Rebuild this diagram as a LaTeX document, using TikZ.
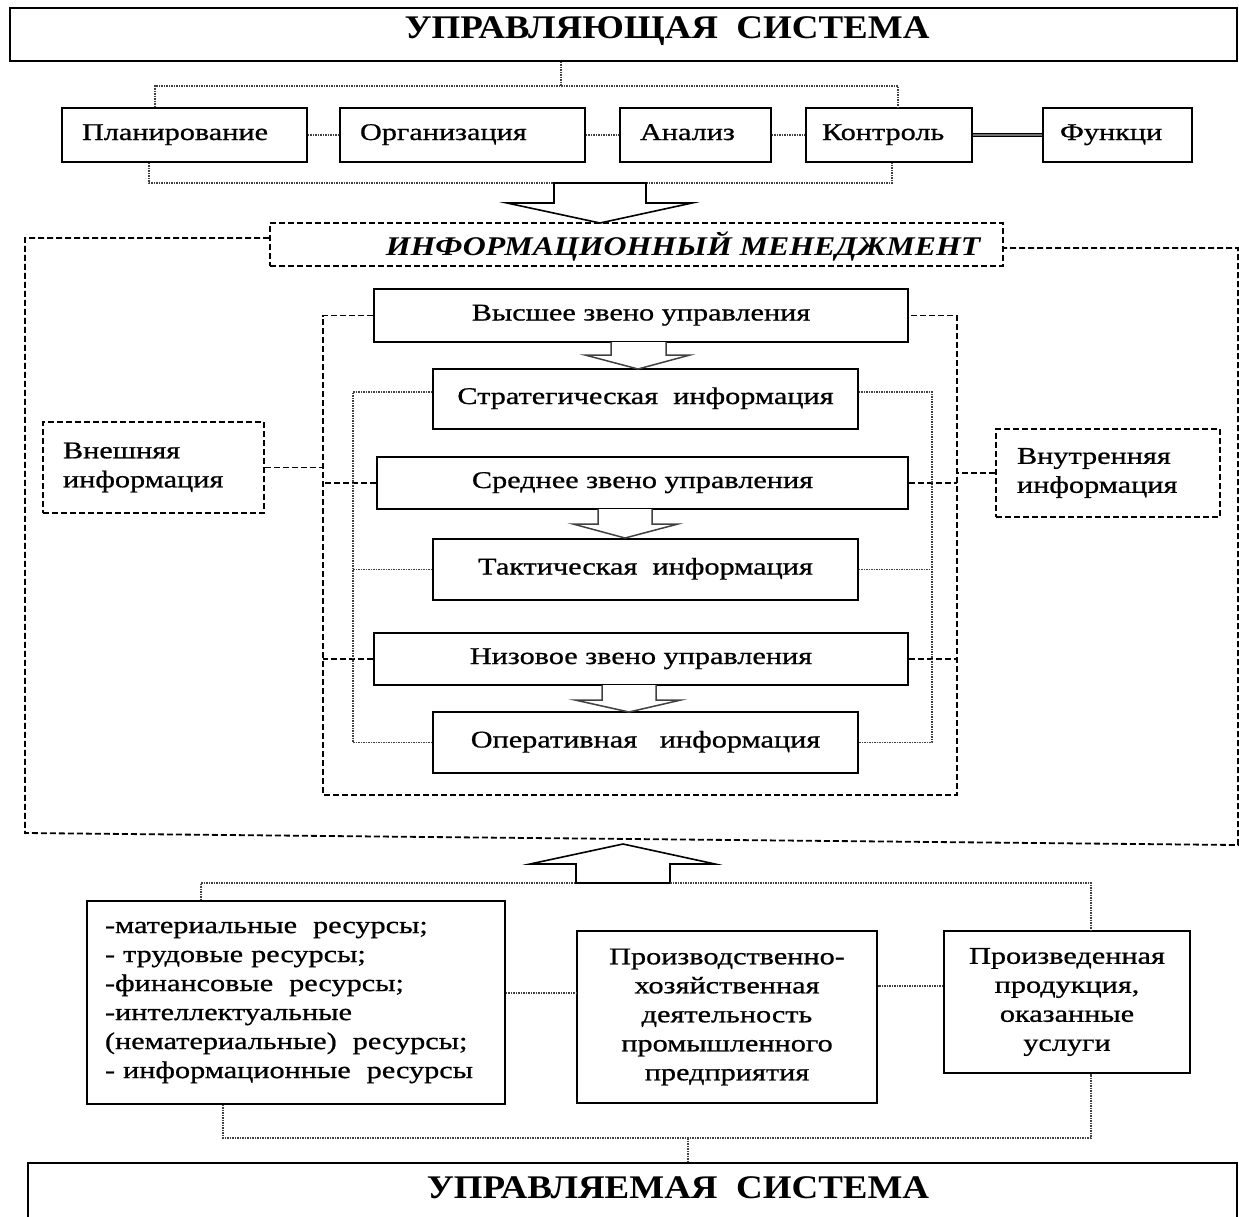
\documentclass[tikz,border=0pt]{standalone}
\usepackage{fontspec}
\newfontfamily\bodyf{Liberation Serif}[FakeStretch=1.26, FakeBold=0.8]
\newfontfamily\headf{Liberation Serif}[FakeStretch=1.12]
\newfontfamily\imf{Liberation Serif}[FakeStretch=1.18]
\newcommand\bodytext{\bodyf\fontsize{24}{29}\selectfont}
\newcommand\headtext{\headf\bfseries\fontsize{33}{38}\selectfont}
\newcommand\imtext{\imf\bfseries\itshape\fontsize{27}{30}\selectfont}

\tikzset{
  box/.style={draw, line width=1.8pt, inner sep=0pt, font=\bodytext},
  dbox/.style={box, dash pattern=on 6pt off 3pt},
  lbox/.style={box, align=left},
  cbox/.style={box, align=center},
  oneline/.style={text height=16pt, text depth=6pt},
  dotline/.style={line width=1.2pt, dash pattern=on 1.5pt off 1pt, black!75},
  dashline/.style={line width=1.8pt, dash pattern=on 6pt off 3pt},
  dblline/.style={double=black!55, line width=1.7pt, double distance=1.4pt},
  blockarrow/.style={draw, fill=white, line width=1.6pt, line join=miter},
  smallarrow/.style={draw=black!75, fill=white, line width=1.5pt, line join=miter},
}

\begin{document}
\begin{tikzpicture}[x=1pt, y=-1pt]
\useasboundingbox (0,0) rectangle (1239,1216);

% ---- controlling system ----
\node[box, minimum width=1227, minimum height=53] (ctl) at (623.5,34.5) {};
\node[font=\headtext, inner sep=0pt] (ctltitle) at (667,31) {УПРАВЛЯЮЩАЯ\ \ СИСТЕМА};

% management functions
\node[lbox, oneline, minimum width=245, minimum height=54, text width=205, inner xsep=20pt] (plan) at (184.5,135) {Планирование};
\node[lbox, oneline, minimum width=245, minimum height=54, text width=205, inner xsep=20pt] (org) at (462.5,135) {Организация};
\node[lbox, oneline, minimum width=151, minimum height=54, text width=111, inner xsep=20pt] (anal) at (695.5,135) {Анализ};
\node[lbox, oneline, minimum width=166, minimum height=54, text width=134, inner xsep=16pt] (kon) at (889,135) {Контроль};
\node[lbox, oneline, minimum width=149, minimum height=54, text width=115, inner xsep=17pt] (fun) at (1117.5,135) {Функци};

\coordinate (tj) at (561,86);
\coordinate (tl) at (155,86);
\coordinate (tr) at (898,86);
\draw[dotline] (ctl.south -| tj) -- (tj);
\draw[dotline] (tl |- plan.north) -- (tl) -- (tr) -- (tr |- kon.north);
\coordinate (bl) at (149,183);
\coordinate (br) at (892,183);
\draw[dotline] (bl |- plan.south) -- (bl) -- (br) -- (br |- kon.south);
\draw[dotline] (plan.east) -- (org.west);
\draw[dotline] (org.east) -- (anal.west);
\draw[dotline] (anal.east) -- (kon.west);
\draw[dblline] (kon.east) -- (fun.west);

% block arrow down to information management
\draw[blockarrow] (554,183) -- (646,183) -- (646,203) -- (692,203) -- (600,223)
  -- (507,203) -- (554,203) -- cycle;

% ---- information management ----
\node[dbox, minimum width=733, minimum height=43] (inf) at (636.5,244.5) {};
\node[font=\imtext, inner sep=0pt] (inftitle) at (683,246) {ИНФОРМАЦИОННЫЙ МЕНЕДЖМЕНТ};

\coordinate (o1) at (25,238);
\coordinate (o2) at (25,833);
\coordinate (o3) at (1238,845);
\coordinate (o4) at (1238,248);
\draw[dashline] (inf.west |- o1) -- (o1) -- (o2) -- (o3) -- (o4) -- (inf.east |- o4);

% management levels and information kinds
\node[cbox, oneline, minimum width=534, minimum height=53] (vys) at (641,315.5) {Высшее звено управления};
\node[cbox, oneline, minimum width=425, minimum height=60] (str) at (645.5,399) {Стратегическая\ \ информация};
\node[cbox, oneline, minimum width=531, minimum height=52] (sred) at (642.5,483) {Среднее звено управления};
\node[cbox, oneline, minimum width=425, minimum height=61] (takt) at (645.5,569.5) {Тактическая\ \ информация};
\node[cbox, oneline, minimum width=534, minimum height=52] (niz) at (641,659) {Низовое звено управления};
\node[cbox, oneline, minimum width=425, minimum height=61] (oper) at (645.5,742.5) {Оперативная\ \ \ информация};

\node[dbox, align=left, minimum width=221, minimum height=91, text width=181, inner xsep=20pt] (vnesh) at (153.5,467.5) {Внешняя\\информация};
\node[dbox, align=left, minimum width=224, minimum height=88, text width=182, inner xsep=21pt] (vnutr) at (1108,473) {Внутренняя\\информация};

% small block arrows between levels
\draw[smallarrow] (611,342) -- (611,355) -- (585,355) -- (638,369) -- (690,355) -- (666,355) -- (666,342);
\draw[smallarrow] (598,509) -- (598,524) -- (573,524) -- (625,538) -- (678,524) -- (652,524) -- (652,509);
\draw[smallarrow] (602,685) -- (602,700) -- (575,700) -- (629,712) -- (681,700) -- (656,700) -- (656,685);

% dashed frame of management levels
\coordinate (i1) at (323,315.5);
\coordinate (i2) at (323,795);
\coordinate (i3) at (957,795);
\coordinate (i4) at (957,315.5);
\draw[dashline] (vys.west) -- (i1) -- (i2) -- (i3) -- (i4) -- (vys.east);
\draw[dashline] (vnesh.east) -- (vnesh.east -| i1);
\draw[dashline] (vnutr.west) -- (vnutr.west -| i4);
\draw[dashline] (sred.west) -- (sred.west -| i1);
\draw[dashline] (sred.east) -- (sred.east -| i4);
\draw[dashline] (niz.west) -- (niz.west -| i1);
\draw[dashline] (niz.east) -- (niz.east -| i4);

% dotted loop of information kinds
\coordinate (dl) at (353,0);
\coordinate (dr) at (932,0);
\draw[dotline] ([yshift=7pt]str.west) -- ([yshift=7pt]str.west -| dl) -- (oper.west -| dl) -- (oper.west);
\draw[dotline] (takt.west) -- (takt.west -| dl);
\draw[dotline] ([yshift=7pt]str.east) -- ([yshift=7pt]str.east -| dr) -- (oper.east -| dr) -- (oper.east);
\draw[dotline] (takt.east) -- (takt.east -| dr);

% ---- controlled system ----
\draw[blockarrow] (576,883) -- (576,864) -- (530,864) -- (623,844) -- (715,864)
  -- (670,864) -- (670,883) -- cycle;

\node[lbox, minimum width=418, minimum height=203, text width=382, inner xsep=18pt] (res) at (296,1002.5)
  {-материальные\ \ ресурсы;\\- трудовые ресурсы;\\-финансовые\ \ ресурсы;\\-интеллектуальные\\(нематериальные)\ \ ресурсы;\\- информационные\ \ ресурсы};
\node[cbox, minimum width=300, minimum height=172] (proizv) at (727,1017)
  {Производственно-\\хозяйственная\\деятельность\\промышленного\\предприятия};
\node[cbox, minimum width=246, minimum height=142] (prod) at (1067,1002)
  {Произведенная\\продукция,\\оказанные\\услуги};

\coordinate (ul) at (201,883);
\coordinate (ur) at (1091,883);
\draw[dotline] (res.north -| ul) -- (ul) -- (576,883);
\draw[dotline] (670,883) -- (ur) -- (prod.north -| ur);
\draw[dotline] ([yshift=9.5pt]res.east) -- ([yshift=9.5pt]res.east -| proizv.west);
\draw[dotline] ([yshift=16pt]prod.west) -- ([yshift=16pt]prod.west -| proizv.east);

\node[box, minimum width=1209, minimum height=67] (ctd) at (632.5,1196.5) {};
\node[font=\headtext, inner sep=0pt] (ctdtitle) at (678,1188) {УПРАВЛЯЕМАЯ\ \ СИСТЕМА};

\coordinate (ll) at (223,1138);
\coordinate (lr) at (1091,1138);
\coordinate (lm) at (688,1138);
\draw[dotline] (res.south -| ll) -- (ll) -- (lr) -- (prod.south -| lr);
\draw[dotline] (lm) -- (lm |- ctd.north);
\end{tikzpicture}
\end{document}
